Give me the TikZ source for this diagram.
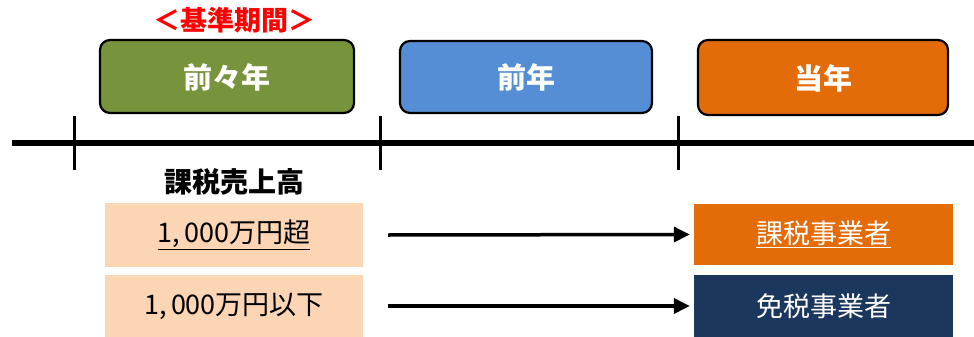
\documentclass[tikz,border=0pt]{standalone}
\usepackage{fontspec}
\setmainfont{Noto Sans CJK JP}
\usetikzlibrary{arrows.meta}
\definecolor{olive}{HTML}{77933C}
\definecolor{skyb}{HTML}{558ED5}
\definecolor{orng}{HTML}{E36C09}
\definecolor{peach}{HTML}{FCD5B5}
\definecolor{navy}{HTML}{1B375E}
\tikzset{
  period/.style={draw=black, line width=2.2pt, rounded corners=10pt},
  ptext/.style={text=white, font=\fontsize{29}{32}\selectfont\bfseries},
  flat/.style={inner sep=0pt, font=\fontsize{27}{30}\selectfont},
  tick/.style={line width=3pt},
  conn/.style={line width=3.5pt, -{Triangle[length=16pt,width=15pt]}}
}
\begin{document}
\begin{tikzpicture}[x=1pt,y=-1pt]
\useasboundingbox (0,0) rectangle (974,337);
% period boxes
\path[period, fill=olive] (100,40) rectangle (354,113);
\node[ptext] (p1) at (227,77) {前々年};
\path[period, fill=skyb] (400,41) rectangle (652,113);
\node[ptext] (p2) at (526,77) {前年};
\path[period, fill=orng] (698,40) rectangle (948,115);
\node[ptext] (p3) at (823,78) {当年};
% label
\node[text=red, font=\fontsize{27}{30}\selectfont\bfseries] (base) at (234,20) {＜基準期間＞};
% timeline
\coordinate (tl0) at (12,143);
\coordinate (tl1) at (974,143);
\draw[line width=5.5pt] (tl0) -- (tl1);
\coordinate (t1a) at (74,116); \coordinate (t1b) at (74,170);
\coordinate (t2a) at (380,116); \coordinate (t2b) at (380,170);
\coordinate (t3a) at (678,116); \coordinate (t3b) at (678,170);
\draw[tick] (t1a) -- (t1b);
\draw[tick] (t2a) -- (t2b);
\draw[tick] (t3a) -- (t3b);
% sales label
\node[font=\fontsize{28}{30}\selectfont\bfseries] (sales) at (234,182) {課税売上高};
% sales boxes
\node[flat, fill=peach, minimum width=258pt, minimum height=64pt] (s1) at (234,235) {\underline{1,\,000万円超}};
\node[flat, fill=peach, minimum width=258pt, minimum height=62pt] (s2) at (234,306) {1,\,000万円以下};
% result boxes
\node[flat, fill=orng, text=white, minimum width=259pt, minimum height=61pt] (r1) at (823.5,234.5) {\underline{課税事業者}};
\node[flat, fill=navy, text=white, minimum width=259pt, minimum height=62pt] (r2) at (823.5,306) {免税事業者};
% arrows
\draw[conn] ([xshift=25pt]s1.east) -- ([xshift=-4pt]r1.west);
\draw[conn] ([xshift=25pt]s2.east) -- ([xshift=-4pt]r2.west);
\end{tikzpicture}
\end{document}
